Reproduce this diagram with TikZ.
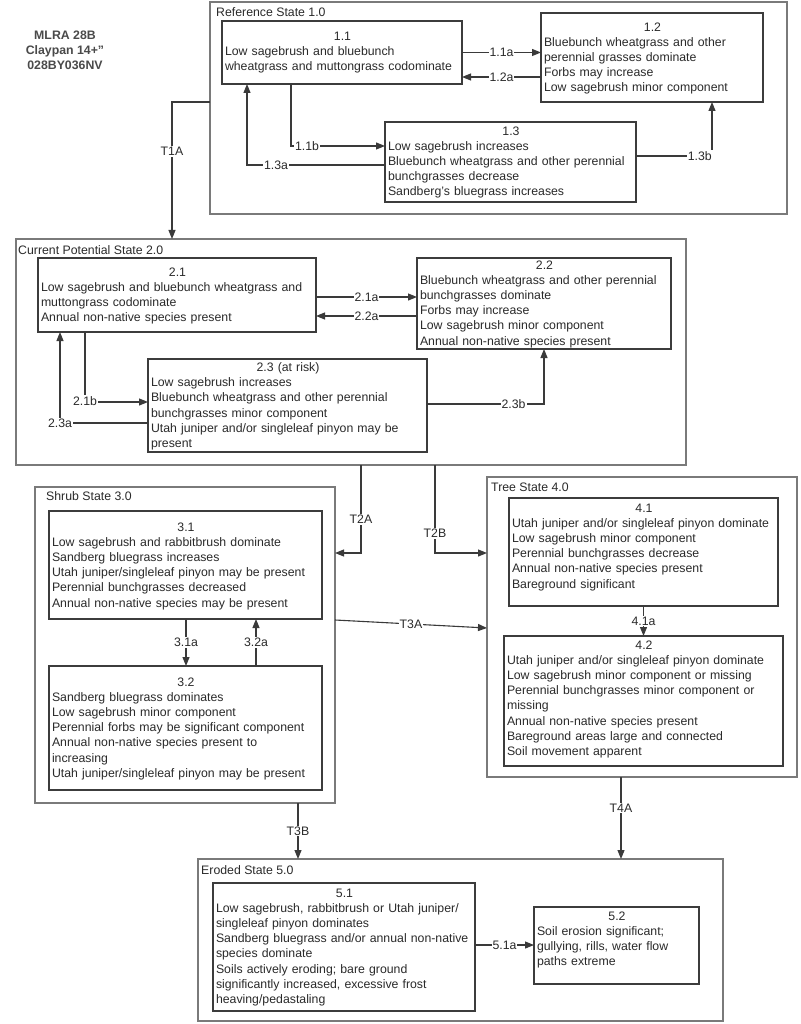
\documentclass[tikz,border=0pt]{standalone}
\usepackage{fontspec}
\setmainfont{Liberation Sans}
\usetikzlibrary{arrows.meta,calc}
\definecolor{txt}{HTML}{2A2A2A}
\definecolor{outerc}{HTML}{7A7A7A}
\definecolor{innerc}{HTML}{3C3C3C}
\definecolor{connc}{HTML}{3A3A3A}
\newcommand\bodyfont{\fontsize{12.3}{15.2}\selectfont}
\tikzset{
  outerbox/.style={draw=outerc, line width=1.4pt, anchor=north west, inner sep=0pt, outer sep=0pt},
  inbox/.style={draw=innerc, line width=1.1pt, anchor=north west, inner sep=0pt, outer sep=0pt, fill=white},
  boxtext/.style={anchor=north west, inner sep=0pt, outer sep=0pt, align=left, font=\bodyfont, text=txt},
  conn/.style={draw=connc, line width=1.1pt, -{Triangle[length=9pt,width=7pt]}},
  lab/.style={fill=white, inner sep=1pt, font=\bodyfont, text=txt},
  statelab/.style={anchor=west, inner sep=0pt, font=\bodyfont, text=txt},
}
% name, x, y, w, h, textwidth, first-line centre y, text
\newcommand\ibox[8]{%
  \node[inbox, minimum width=#4pt, minimum height=#5pt] (#1) at (#2,#3) {};
  \node[boxtext, text width=#6pt] (#1t) at ($(#2,#7)+(3,-4.4)$) {#8};
}
\newcommand\obox[5]{%
  \node[outerbox, minimum width=#4pt, minimum height=#5pt] (#1) at (#2,#3) {};
}
\begin{document}
\begin{tikzpicture}[x=1pt,y=-1pt]
\useasboundingbox[fill=white] (0,0) rectangle (800,1024);

% title
\node[font=\fontsize{12.3}{15}\selectfont\bfseries, text=txt!85, align=center, inner sep=0pt] (title) at (65,50) {MLRA 28B\\Claypan 14+"\\028BY036NV};

% ---------- State 1 ----------
\obox{st1}{210}{2}{577}{212}
\node[statelab] (st1l) at (216,12) {Reference State 1.0};
\ibox{b11}{222}{21}{240}{63}{235}{36}{\makebox[\linewidth]{1.1}\\Low sagebrush and bluebunch\\wheatgrass and muttongrass codominate}
\ibox{b12}{541}{13}{222}{89}{217}{27}{\makebox[\linewidth]{1.2}\\Bluebunch wheatgrass and other\\perennial grasses dominate\\Forbs may increase\\Low sagebrush minor component}
\ibox{b13}{385}{122}{251}{80}{246}{131}{\makebox[\linewidth]{1.3}\\Low sagebrush increases\\Bluebunch wheatgrass and other perennial\\bunchgrasses decrease\\Sandberg's bluegrass increases}

\draw[conn] (b11.east) -- (b11.east -| b12.west) node[lab, midway] (l11a) {1.1a};
\coordinate (p12a) at ([yshift=-24.5pt]b11.east);
\draw[conn] (p12a -| b12.west) -- (p12a) node[lab, midway] (l12a) {1.2a};
\draw[conn] ([xshift=-51pt]b11.south) |- ([yshift=16pt]b13.west) node[lab, pos=0.585] (l11b) {1.1b};
\draw[conn] ([yshift=-3pt]b13.west) -| ([xshift=-95pt]b11.south) node[lab, pos=0.395] (l13a) {1.3a};
\draw[conn] ([yshift=6pt]b13.east) -| ([xshift=60pt]b12.south) node[lab, pos=0.42] (l13b) {1.3b};

% ---------- State 2 ----------
\obox{st2}{16}{239}{670}{226}
\node[statelab] (st2l) at (18,250) {Current Potential State 2.0};
\ibox{b21}{38}{258}{278}{74}{273}{272}{\makebox[\linewidth]{2.1}\\Low sagebrush and bluebunch wheatgrass and\\muttongrass codominate\\Annual non-native species present}
\ibox{b22}{417}{258}{254}{91}{249}{265}{\makebox[\linewidth]{2.2}\\Bluebunch wheatgrass and other perennial\\bunchgrasses dominate\\Forbs may increase\\Low sagebrush minor component\\Annual non-native species present}
\ibox{b23}{148}{359}{279}{93}{274}{367}{\makebox[\linewidth]{2.3 (at risk)}\\Low sagebrush increases\\Bluebunch wheatgrass and other perennial\\bunchgrasses minor component\\Utah juniper and/or singleleaf pinyon may be\\present}

\draw[conn] ([yshift=-2pt]b21.east) -- ([yshift=-2pt]b21.east -| b22.west) node[lab, midway] (l21a) {2.1a};
\coordinate (p22a) at ([yshift=-21pt]b21.east);
\draw[conn] (p22a -| b22.west) -- (p22a) node[lab, midway] (l22a) {2.2a};
\draw[conn] ([xshift=-92pt]b21.south) |- ([yshift=3.5pt]b23.west) node[lab, pos=0.5, yshift=1pt] (l21b) {2.1b};
\draw[conn] ([yshift=-17.5pt]b23.west) -| ([xshift=-117pt]b21.south) node[lab, pos=0.5] (l23a) {2.3a};
\draw[conn] ([yshift=1.5pt]b23.east) -| (b22.south) node[lab, pos=0.37] (l23b) {2.3b};

% T1A
\draw[conn] ([yshift=6pt]st1.west) -| ([xshift=-179pt]st2.north) node[lab, pos=0.68] (lt1a) {T1A};

% ---------- State 3 ----------
\obox{st3}{35}{487}{300}{316}
\node[statelab] (st3l) at (46,496) {Shrub State 3.0};
\ibox{b31}{49}{511}{273}{108}{268}{527}{\makebox[\linewidth]{3.1}\\Low sagebrush and rabbitbrush dominate\\Sandberg bluegrass increases\\Utah juniper/singleleaf pinyon may be present\\Perennial bunchgrasses decreased\\Annual non-native species may be present}
\ibox{b32}{49}{666}{273}{124}{268}{682}{\makebox[\linewidth]{3.2}\\Sandberg bluegrass dominates\\Low sagebrush minor component\\Perennial forbs may be significant component\\Annual non-native species present to\\increasing\\Utah juniper/singleleaf pinyon may be present}

\draw[conn] ([xshift=0.5pt]b31.south) -- ([xshift=0.5pt]b31.south |- b32.north) node[lab, midway] (l31a) {3.1a};
\draw[conn] ([xshift=70.5pt]b32.north) -- ([xshift=70.5pt]b32.north |- b31.south) node[lab, midway] (l32a) {3.2a};

% ---------- State 4 ----------
\obox{st4}{487}{477}{310}{300}
\node[statelab] (st4l) at (491,487) {Tree State 4.0};
\ibox{b41}{509}{498}{269}{108}{264}{508}{\makebox[\linewidth]{4.1}\\Utah juniper and/or singleleaf pinyon dominate\\Low sagebrush minor component\\Perennial bunchgrasses decrease\\Annual non-native species present\\Bareground significant}
\ibox{b42}{504}{636}{279}{130}{274}{645}{\makebox[\linewidth]{4.2}\\Utah juniper and/or singleleaf pinyon dominate\\Low sagebrush minor component or missing\\Perennial bunchgrasses minor component or\\missing\\Annual non-native species present\\Bareground areas large and connected\\Soil movement apparent}

\draw[conn] (b41.south) -- (b41.south |- b42.north) node[lab, midway] (l41a) {4.1a};

% T2A, T2B, T3A
\draw[conn] ([xshift=10pt]st2.south) |- ([yshift=92pt]st3.east) node[lab, pos=0.31] (lt2a) {T2A};
\draw[conn] ([xshift=84pt]st2.south) |- ([yshift=74pt]st4.west) node[lab, pos=0.39] (lt2b) {T2B};
\draw[conn] ([yshift=25pt]st3.east) -- ([yshift=-1pt]st4.west) node[lab, midway] (lt3a) {T3A};

% ---------- State 5 ----------
\obox{st5}{198}{859}{525}{162}
\node[statelab] (st5l) at (201,870) {Eroded State 5.0};
\ibox{b51}{213}{883}{262}{128}{257}{893}{\makebox[\linewidth]{5.1}\\Low sagebrush, rabbitbrush or Utah juniper/\\singleleaf pinyon dominates\\Sandberg bluegrass and/or annual non-native\\species dominate\\Soils actively eroding; bare ground\\significantly increased, excessive frost\\heaving/pedastaling}
\ibox{b52}{534}{907}{165}{77}{160}{916}{\makebox[\linewidth]{5.2}\\Soil erosion significant;\\gullying, rills, water flow\\paths extreme}

\draw[conn] ([yshift=2pt]b51.east) -- ([yshift=2pt]b51.east -| b52.west) node[lab, midway] (l51a) {5.1a};

% T3B, T4A
\draw[conn] ([xshift=113pt]st3.south) -- ([xshift=113pt]st3.south |- st5.north) node[lab, midway] (lt3b) {T3B};
\draw[conn] ([xshift=-21pt]st4.south) -- ([xshift=-21pt]st4.south |- st5.north) node[lab, pos=0.38] (lt4a) {T4A};
\end{tikzpicture}
\end{document}
